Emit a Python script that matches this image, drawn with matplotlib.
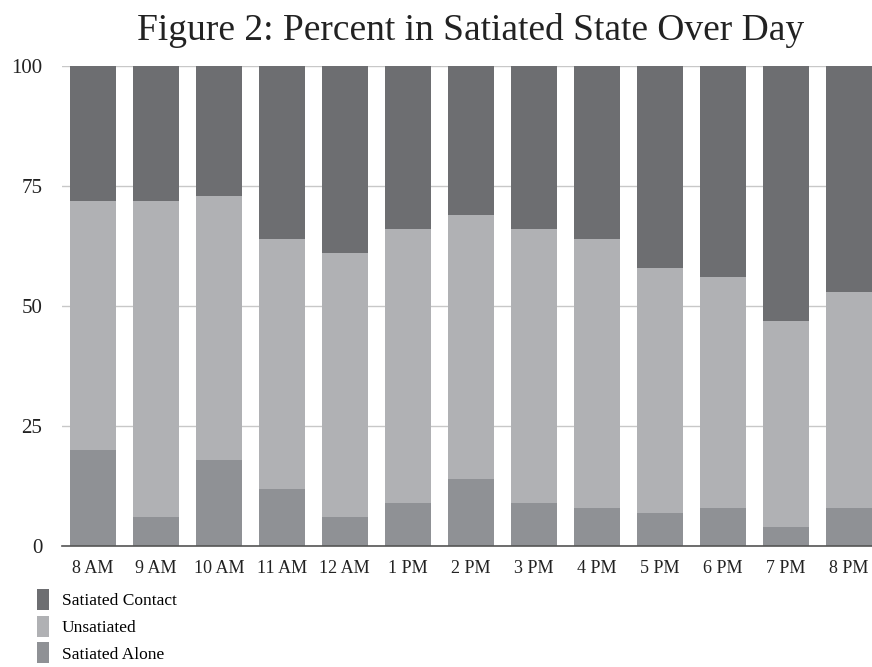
import numpy as np
import matplotlib.pyplot as plt

hours = ['8 AM', '9 AM', '10 AM', '11 AM', '12 AM', '1 PM', '2 PM',
         '3 PM', '4 PM', '5 PM', '6 PM', '7 PM', '8 PM']
satiated_alone = [20, 6, 18, 12, 6, 9, 14, 9, 8, 7, 8, 4, 8]
unsatiated = [52, 66, 55, 52, 55, 57, 55, 57, 56, 51, 48, 43, 45]
satiated_contact = [28, 28, 27, 36, 39, 34, 31, 34, 36, 42, 44, 53, 47]

plt.rcParams['font.family'] = ['Liberation Serif', 'DejaVu Serif']

fig = plt.figure(figsize=(8.72, 6.67), dpi=100)
ax = fig.add_axes([0.071, 0.181, 0.929, 0.72])

x = np.arange(len(hours))
w = 0.73
alone = np.array(satiated_alone)
mid = np.array(unsatiated)
ax.bar(x, alone, w, color='#8f9195', label='Satiated Alone')
ax.bar(x, mid, w, bottom=alone, color='#b0b1b4', label='Unsatiated')
ax.bar(x, satiated_contact, w, bottom=alone + mid, color='#6d6e71',
       label='Satiated Contact')

ax.set_xlim(-0.49, 12.37)
ax.set_ylim(0, 100)
ax.set_yticks([0, 25, 50, 75, 100])
ax.set_xticks(x)
ax.set_xticklabels(hours)
ax.tick_params(length=0, colors='#222222')
ax.tick_params(axis='y', pad=14, labelsize=15)
ax.tick_params(axis='x', pad=10, labelsize=13)
ax.yaxis.grid(True, color='#c8c8c8', linewidth=1)
ax.set_axisbelow(True)
for s in ['top', 'right', 'left']:
    ax.spines[s].set_visible(False)
ax.spines['bottom'].set_color('#555555')
ax.spines['bottom'].set_linewidth(1.2)

fig.text(0.54, 0.955, 'Figure 2: Percent in Satiated State Over Day',
         ha='center', va='center', fontsize=27, color='#222222')

handles, labels = ax.get_legend_handles_labels()
fig.legend(handles[::-1], labels[::-1], loc='upper left',
           bbox_to_anchor=(0.042, 0.117), frameon=False, fontsize=12.5,
           handlelength=0.7, handleheight=1.48, handletextpad=0.75,
           labelspacing=0.33, borderaxespad=0, borderpad=0)

fig.savefig('out.png', dpi=100)
